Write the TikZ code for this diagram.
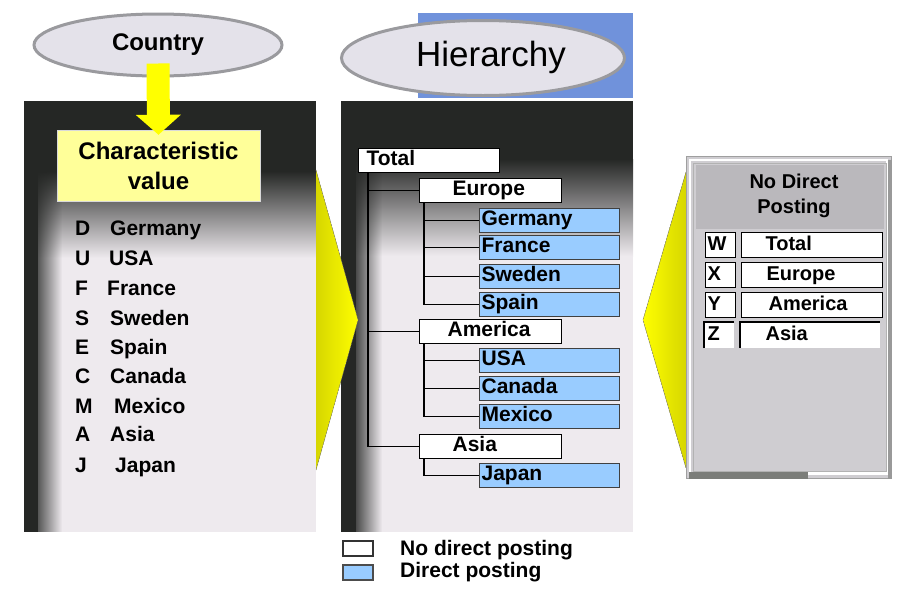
\documentclass[tikz,border=0pt]{standalone}
\usepackage{fontspec}
\setmainfont{Liberation Sans}
\usetikzlibrary{arrows.meta,fadings,shapes.geometric}
\definecolor{paneldark}{HTML}{252725}
\definecolor{panellight}{HTML}{EEEAEE}
\definecolor{postblue}{HTML}{99CCFF}
\definecolor{hierblue}{HTML}{7092DB}
\definecolor{charyellow}{HTML}{FFFF99}
\definecolor{ellfill}{HTML}{E4E2EA}
\definecolor{ellring}{HTML}{9A9A9E}
\definecolor{rpanel}{HTML}{CFCDD1}
\definecolor{rhead}{HTML}{BAB8BC}
\definecolor{chevdark}{HTML}{D6D600}
\definecolor{chevbright}{HTML}{FFFF00}
\definecolor{barcol}{HTML}{7B7D79}
\tikzset{
  txt/.style={font=\fontsize{21}{24}\selectfont\bfseries, inner sep=0pt},
  tbox/.style={anchor=north west, line width=1.2pt, inner xsep=0pt, inner ysep=0pt,
    minimum height=24pt, text height=14pt, text depth=4pt, align=left,
    font=\fontsize{21}{24}\selectfont\bfseries},
  wbox/.style={tbox, draw=black, fill=white},
  bbox/.style={tbox, draw=black!75, fill=postblue},
  treeline/.style={draw=black, line width=1.3pt},
  oval/.style={ellipse, fill=ellfill, draw=ellring, line width=3pt},
  chev/.style={draw=gray, densely dotted, line width=0.6pt},
  rbox/.style={anchor=north west, draw=black, fill=white, line width=1.2pt,
    inner xsep=0pt, inner ysep=0pt, minimum height=25pt, text height=14pt,
    text depth=4pt, align=left, font=\fontsize{20}{24}\selectfont\bfseries},
}
\begin{document}
\begin{tikzpicture}[x=1pt,y=-1pt]
\useasboundingbox (0,0) rectangle (897,592);

% ---------- left panel ----------
\fill[panellight] (24,101) rectangle (316,532);
\fill[paneldark] (24,101) rectangle (316,172);
\fill[top color=paneldark, bottom color=panellight] (24,171) rectangle (316,258);
\fill[paneldark] (24,101) rectangle (38,532);
\fill[paneldark, path fading=east] (30,101) rectangle (62,532);

% ---------- middle panel ----------
\fill[hierblue] (418,13) rectangle (633,98);
\fill[panellight] (341,101) rectangle (633,532);
\fill[paneldark] (341,101) rectangle (633,160);
\fill[top color=paneldark, bottom color=panellight] (341,159) rectangle (633,256);
\fill[paneldark] (341,101) rectangle (356,532);
\fill[paneldark, path fading=east] (350,101) rectangle (382,532);

% ---------- ellipses ----------
\node[oval, minimum width=248pt, minimum height=62pt] (country) at (158,45) {};
\node[txt, font=\fontsize{24}{26}\selectfont\bfseries] (countrytxt) at (158,45) {Country};
\node[oval, minimum width=283pt, minimum height=75pt] (hier) at (483,58) {};
\node[inner sep=0pt, font=\fontsize{35}{38}\selectfont] (hiertxt) at (491,57) {Hierarchy};

% ---------- characteristic value ----------
\node[fill=charyellow, draw=black!15, minimum width=203pt, minimum height=71pt,
      inner sep=0pt, align=center, font=\fontsize{24}{30}\selectfont\bfseries]
      (charv) at (158.5,165.5) {Characteristic\\value};
\draw[chevbright, line width=23pt, -{Triangle[width=44pt,length=20pt]}]
  ([yshift=14pt]country.south) -- ([yshift=-5pt]charv.north);

% ---------- list ----------
\foreach \l/\n/\x/\y [count=\i] in {D/Germany/110/235, U/USA/109/265, F/France/107/295,
    S/Sweden/110/325, E/Spain/110/354, C/Canada/110/383, M/Mexico/114/413,
    A/Asia/110/441, J/Japan/115/472}{
  \node[txt, anchor=base west] (let\i) at (75,\y) {\l};
  \node[txt, anchor=base west] (nam\i) at (\x,\y) {\n};
}

% ---------- left chevron ----------
\coordinate (lc1) at (316,170);
\coordinate (lc2) at (358,320);
\coordinate (lc3) at (316,470);
\fill[left color=chevdark, right color=chevbright] (lc1) -- (lc2) -- (lc3) -- cycle;
\draw[chev] (lc1) -- (lc2) -- (lc3);

% ---------- tree ----------
\node[wbox, text width=141pt] (total) at (358,148) {\hspace*{8pt}Total};
\node[wbox, text width=142pt] (europe) at (419,178) {\hspace*{33pt}Europe};
\node[bbox, text width=140pt] (germany) at (479,208) {\hspace*{2pt}Germany};
\node[bbox, text width=140pt] (france) at (479,235) {\hspace*{2pt}France};
\node[bbox, text width=140pt] (sweden) at (479,264) {\hspace*{2pt}Sweden};
\node[bbox, text width=140pt] (spain) at (479,292) {\hspace*{2pt}Spain};
\node[wbox, text width=142pt] (america) at (419,319) {\hspace*{28pt}America};
\node[bbox, text width=140pt] (usa) at (479,348) {\hspace*{2pt}USA};
\node[bbox, text width=140pt] (canada) at (479,376) {\hspace*{2pt}Canada};
\node[bbox, text width=140pt] (mexico) at (479,404) {\hspace*{2pt}Mexico};
\node[wbox, text width=142pt] (asia) at (419,434) {\hspace*{33pt}Asia};
\node[bbox, text width=140pt] (japan) at (479,463) {\hspace*{2pt}Japan};

\foreach \c in {europe,america,asia}
  \draw[treeline] ([xshift=10pt]total.south west) |- (\c.west);
\foreach \c in {germany,france,sweden,spain}
  \draw[treeline] ([xshift=5pt]europe.south west) |- (\c.west);
\foreach \c in {usa,canada,mexico}
  \draw[treeline] ([xshift=5pt]america.south west) |- (\c.west);
\draw[treeline] ([xshift=5pt]asia.south west) |- (japan.west);

% ---------- legend ----------
\node[draw=black!80, fill=white, line width=1.2pt, minimum width=30pt, minimum height=15pt, inner sep=0pt] (legw) at (358,548.5) {};
\node[draw=black!70, fill=postblue, line width=1.2pt, minimum width=30pt, minimum height=15pt, inner sep=0pt] (legb) at (358,572.5) {};
\node[txt, anchor=base west] (legwtxt) at (400,555) {No direct posting};
\node[txt, anchor=base west] (legbtxt) at (400,577) {Direct posting};

% ---------- right chevron ----------
\coordinate (rc1) at (686,172);
\coordinate (rc2) at (643,320);
\coordinate (rc3) at (686,468);
\fill[left color=chevbright, right color=chevdark] (rc1) -- (rc2) -- (rc3) -- cycle;
\draw[chev] (rc1) -- (rc2) -- (rc3);

% ---------- right panel ----------
\fill[rpanel] (686,156) rectangle (892,479);
\draw[gray!75, line width=1pt] (686.5,156.5) rectangle (891.5,478.5);
\draw[white, line width=1.2pt] (690,160) rectangle (887,474);
\draw[gray!60, line width=1pt] (693,163) rectangle (886,471);
\fill[rhead] (696,165) rectangle (884,229);
\node[align=center, inner sep=0pt, font=\fontsize{20}{25}\selectfont\bfseries] (rhtxt) at (794,196) {No Direct\\Posting};
\fill[barcol] (689,472) rectangle (808,479);
\fill[white] (808,472) rectangle (886,475);
\fill[gray!80] (888,160) rectangle (892,479);

\node[rbox, text width=30pt] (kw) at (705,232) {\hspace*{2pt}W};
\node[rbox, text width=141pt] (nw) at (741,232) {\hspace*{24pt}Total};
\node[rbox, text width=30pt] (kx) at (705,262) {\hspace*{2pt}X};
\node[rbox, text width=141pt] (nx) at (741,262) {\hspace*{25pt}Europe};
\node[rbox, text width=30pt] (ky) at (705,292) {\hspace*{2pt}Y};
\node[rbox, text width=141pt] (ny) at (741,292) {\hspace*{27pt}America};
\node[rbox, draw=none, text width=29pt] (kz) at (704,322) {\hspace*{3pt}Z};
\node[rbox, draw=none, text width=139pt] (nz) at (740,322) {\hspace*{25pt}Asia};
\draw[black, line width=1.2pt] (kz.south west) -- (kz.north west) -- (kz.north east);
\draw[black, line width=1.2pt] (nz.south west) -- (nz.north west) -- (nz.north east);
\end{tikzpicture}
\end{document}
